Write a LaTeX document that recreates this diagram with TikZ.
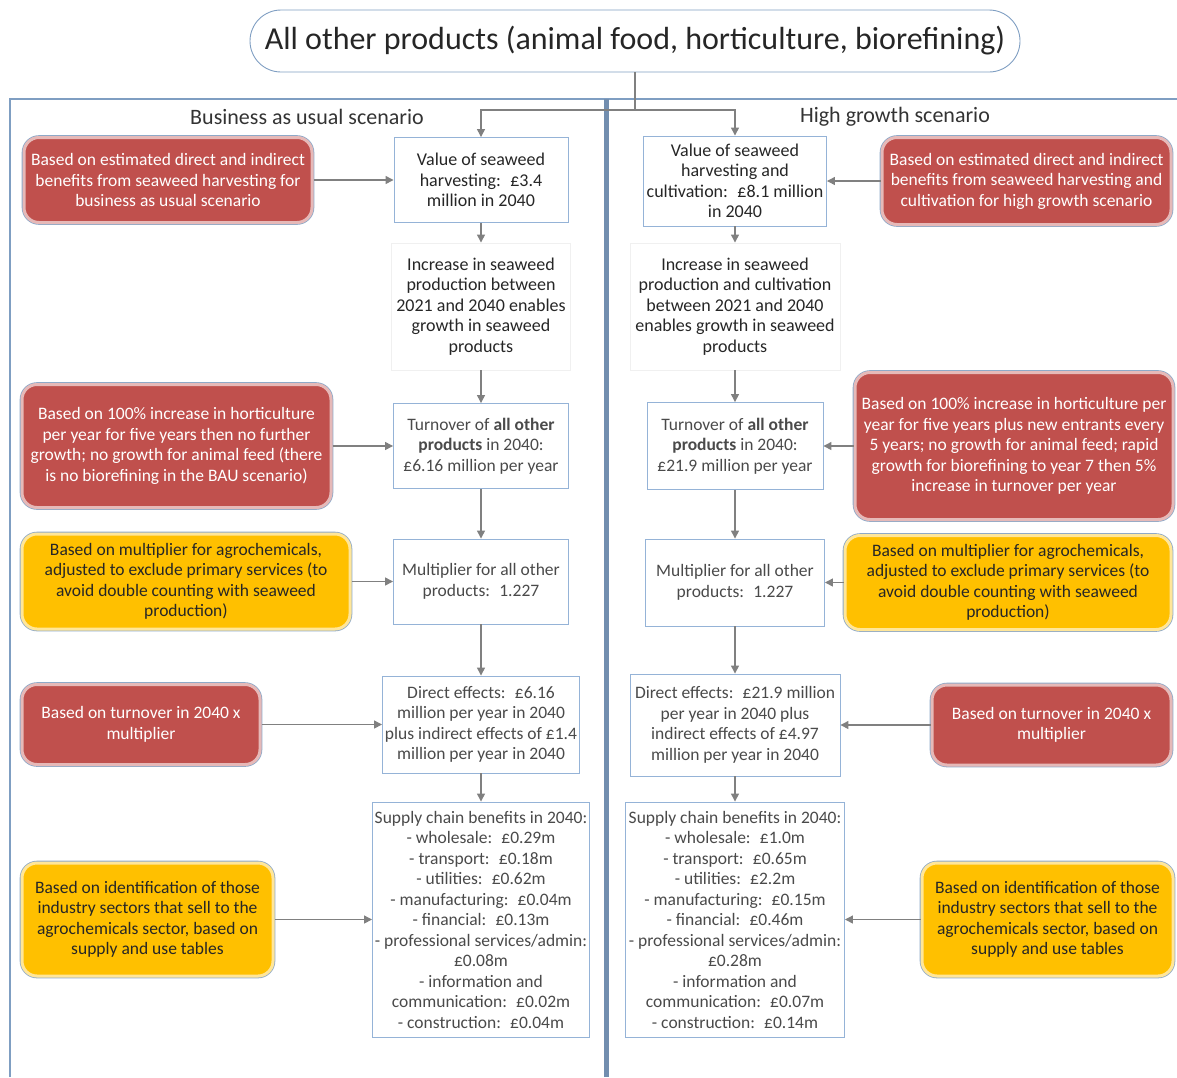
\documentclass[tikz,border=0pt]{standalone}
\usepackage{fontspec}
\setmainfont{Carlito}
\usetikzlibrary{arrows.meta}
\definecolor{notered}{HTML}{C0504D}
\definecolor{noteyel}{HTML}{FFC000}
\definecolor{notebd}{HTML}{8EA9C8}
\definecolor{framebd}{HTML}{7F9EC2}
\definecolor{boxbd}{HTML}{95B3D7}
\definecolor{arrgray}{HTML}{808080}
\definecolor{boxtxt}{HTML}{4A4A4A}
\tikzset{
  txt/.style={font=\fontsize{17.5}{20.5}\selectfont, align=center, inner sep=0pt},
  proc/.style={txt, draw=boxbd, line width=0.9pt, fill=white, text=boxtxt},
  faint/.style={txt, font=\fontsize{18}{20.5}\selectfont, draw=black!6, line width=0.9pt, fill=white, text=black!85},
  redbox/.style={txt, rounded corners=15pt, text=white, fill=notered,
    draw=notered!40!white, line width=3pt, preaction={draw=notebd, line width=4.6pt}},
  yelbox/.style={txt, rounded corners=15pt, text=black!85, fill=noteyel,
    draw=noteyel!40!white, line width=3pt, preaction={draw=notebd, line width=4.6pt}},
  arr/.style={draw=arrgray, line width=1.3pt, -{Triangle[length=8pt,width=8pt]}}
}
\begin{document}
\begin{tikzpicture}[x=1pt, y=-1pt]
        \useasboundingbox (0,0) rectangle (1177,1077);

        \draw [framebd, line width=2.5pt] (10,1077) -- (10,99) -- (1177,99);
        \draw [framebd!90!black, line width=5pt] (606,99) -- (606,1077);

        \node (title) [draw=framebd, line width=0.9pt, rounded corners=31pt, minimum width=770pt, minimum height=62pt, font=\fontsize{32}{36}\selectfont, text=black!85] at (635,41) {All other products (animal food, horticulture, biorefining)};
        \coordinate (fork) at (635,110);

        \node (bau) [font=\fontsize{22}{26}\selectfont, text=black!80] at (307,117) {Business as usual scenario};
        \node (high) [font=\fontsize{22}{26}\selectfont, text=black!80] at (895,117) {High growth scenario};

        \node (bval) [proc, font=\fontsize{18}{20.5}\selectfont, text=black!85, minimum width=174pt, minimum height=85pt] at (481,180) {Value of seaweed\\harvesting:~ £3.4\\million in 2040};
        \node (binc) [faint, minimum width=179pt, minimum height=127pt] at (481,306.5) {Increase in seaweed\\production between\\2021 and 2040 enables\\growth in seaweed\\products};
        \node (bturn) [proc, minimum width=175pt, minimum height=85pt] at (481,446) {Turnover of \textbf{all other}\\\textbf{products} in 2040:\\£6.16 million per year};
        \node (bmult) [proc, minimum width=175pt, minimum height=85pt] at (481,581.5) {Multiplier for all other\\products:~ 1.227};
        \node (bdir) [proc, minimum width=197pt, minimum height=97pt] at (481,724.5) {Direct effects:~ £6.16\\million per year in 2040\\plus indirect effects of £1.4\\million per year in 2040};
        \node (bsup) [proc, minimum width=217pt, minimum height=235pt] at (481,919.5) {Supply chain benefits in 2040:\\- wholesale:~ £0.29m\\- transport:~ £0.18m\\- utilities:~ £0.62m\\- manufacturing:~ £0.04m\\- financial:~ £0.13m\\- professional services/admin:\\£0.08m\\- information and\\communication:~ £0.02m\\- construction:~ £0.04m};

        \node (bn1) [redbox, minimum width=288pt, minimum height=85pt] at (168,180) {Based on estimated direct and indirect\\benefits from seaweed harvesting for\\business as usual scenario};
        \node (bn2) [redbox, minimum width=309pt, minimum height=123pt] at (176.5,446) {Based on 100\% increase in horticulture\\per year for five years then no further\\growth; no growth for animal feed (there\\is no biorefining in the BAU scenario)};
        \node (bn3) [yelbox, minimum width=328pt, minimum height=95pt] at (186,581.5) {Based on multiplier for agrochemicals,\\adjusted to exclude primary services (to\\avoid double counting with seaweed\\production)};
        \node (bn4) [redbox, minimum width=238pt, minimum height=80pt] at (141,724.5) {Based on turnover in 2040 x\\multiplier};
        \node (bn5) [yelbox, minimum width=251pt, minimum height=113pt] at (147.5,919.5) {Based on identification of those\\industry sectors that sell to the\\agrochemicals sector, based on\\supply and use tables};

        \node (hval) [proc, font=\fontsize{18}{20.5}\selectfont, text=black!85, minimum width=183pt, minimum height=90pt] at (735,181) {Value of seaweed\\harvesting and\\cultivation:~ £8.1 million\\in 2040};
        \node (hinc) [faint, minimum width=210pt, minimum height=127pt] at (735,306.5) {Increase in seaweed\\production and cultivation\\between 2021 and 2040\\enables growth in seaweed\\products};
        \node (hturn) [proc, minimum width=176pt, minimum height=87pt] at (735,446) {Turnover of \textbf{all other}\\\textbf{products} in 2040:\\£21.9 million per year};
        \node (hmult) [proc, minimum width=179pt, minimum height=87pt] at (735,582.5) {Multiplier for all other\\products:~ 1.227};
        \node (hdir) [proc, minimum width=210pt, minimum height=102pt] at (735,725) {Direct effects:~ £21.9 million\\per year in 2040 plus\\indirect effects of £4.97\\million per year in 2040};
        \node (hsup) [proc, minimum width=219pt, minimum height=235pt] at (735,919.5) {Supply chain benefits in 2040:\\- wholesale:~ £1.0m\\- transport:~ £0.65m\\- utilities:~ £2.2m\\- manufacturing:~ £0.15m\\- financial:~ £0.46m\\- professional services/admin:\\£0.28m\\- information and\\communication:~ £0.07m\\- construction:~ £0.14m};

        \node (hn1) [redbox, minimum width=289pt, minimum height=87pt] at (1026.5,181) {Based on estimated direct and indirect\\benefits from seaweed harvesting and\\cultivation for high growth scenario};
        \node (hn2) [redbox, minimum width=318pt, minimum height=147pt] at (1014,446) {Based on 100\% increase in horticulture per\\year for five years plus new entrants every\\5 years; no growth for animal feed; rapid\\growth for biorefining to year 7 then 5\%\\increase in turnover per year};
        \node (hn3) [yelbox, minimum width=326pt, minimum height=94pt] at (1008,582.5) {Based on multiplier for agrochemicals,\\adjusted to exclude primary services (to\\avoid double counting with seaweed\\production)};
        \node (hn4) [redbox, minimum width=239pt, minimum height=80pt] at (1051.5,725) {Based on turnover in 2040 x\\multiplier};
        \node (hn5) [yelbox, minimum width=251pt, minimum height=113pt] at (1047.5,919.5) {Based on identification of those\\industry sectors that sell to the\\agrochemicals sector, based on\\supply and use tables};

        \draw [arrgray, line width=1.3pt] (title.south) -- (fork);
        \draw [arr] (fork) -| (bval.north);
        \draw [arr] (fork) -| (hval.north);

        \draw [arr] (bval.south) -- (binc.north);
        \draw [arr] (binc.south) -- (bturn.north);
        \draw [arr] (bturn.south) -- (bmult.north);
        \draw [arr] (bmult.south) -- (bdir.north);
        \draw [arr] (bdir.south) -- (bsup.north);

        \draw [arr] (hval.south) -- (hinc.north);
        \draw [arr] (hinc.south) -- (hturn.north);
        \draw [arr] (hturn.south) -- (hmult.north);
        \draw [arr] (hmult.south) -- (hdir.north);
        \draw [arr] (hdir.south) -- (hsup.north);

        \draw [arr] (bn1.east) -- (bn1.east -| bval.west);
        \draw [arr] (bn2.east) -- (bn2.east -| bturn.west);
        \draw [arr] (bn3.east) -- (bn3.east -| bmult.west);
        \draw [arr] (bn4.east) -- (bn4.east -| bdir.west);
        \draw [arr] (bn5.east) -- (bn5.east -| bsup.west);

        \draw [arr] (hn1.west) -- (hn1.west -| hval.east);
        \draw [arr] (hn2.west) -- (hn2.west -| hturn.east);
        \draw [arr] (hn3.west) -- (hn3.west -| hmult.east);
        \draw [arr] (hn4.west) -- (hn4.west -| hdir.east);
        \draw [arr] (hn5.west) -- (hn5.west -| hsup.east);
    \end{tikzpicture}
\end{document}
